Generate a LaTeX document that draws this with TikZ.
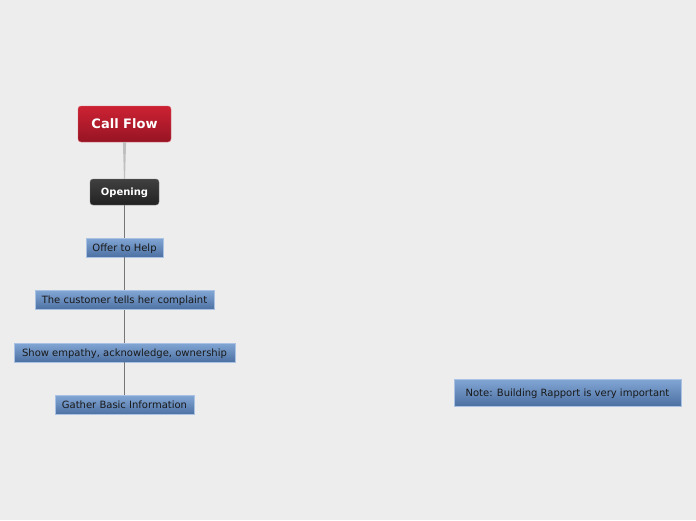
\documentclass[tikz,border=0pt]{standalone}
\usepackage{fontspec}
\setmainfont{DejaVu Sans}
\usepackage{tikz}
\usetikzlibrary{positioning}

\definecolor{bgback}{HTML}{EDEDED}
\definecolor{rootTop}{HTML}{CC2233}
\definecolor{rootBot}{HTML}{961424}
\definecolor{openTop}{HTML}{404040}
\definecolor{openBot}{HTML}{222222}
\definecolor{leafTop}{HTML}{82A6D4}
\definecolor{leafBot}{HTML}{4C70A2}
\definecolor{leafLine}{HTML}{A9C1E2}
\definecolor{linkGray}{HTML}{767676}

\tikzset{
  rootbox/.style={rounded corners=3pt, top color=rootTop, bottom color=rootBot,
    draw=rootTop!70!white, text=white, font=\fontsize{13}{15}\selectfont\bfseries,
    text height=9.5pt, text depth=0pt,
    minimum width=93pt, minimum height=36pt, inner sep=0pt},
  openbox/.style={rounded corners=3pt, top color=openTop, bottom color=openBot,
    draw=openTop!70!white, text=white, font=\fontsize{10}{12}\selectfont\bfseries,
    text height=7.3pt, text depth=0pt,
    minimum width=69pt, minimum height=26pt, inner sep=0pt},
  leafbox/.style={top color=leafTop, bottom color=leafBot, draw=leafLine,
    text=black!90, font=\fontsize{10}{12}\selectfont,
    text height=7.3pt, text depth=0pt,
    minimum height=19pt, inner sep=0pt},
  link/.style={draw=linkGray, line width=0.9pt}
}

\begin{document}
\begin{tikzpicture}[x=1pt,y=-1pt]

  \fill[bgback] (0,0) rectangle (696,520);
  \useasboundingbox (0,0) rectangle (696,520);

  % Nodes
  \node (root) at (124.5,124) [rootbox] {Call Flow};
  \node (open) at (124.5,192) [openbox] {Opening};
  \node (offer) at (124.5,247.5) [leafbox, minimum width=77pt] {Offer to Help};
  \node (tells) at (124.5,300) [leafbox, minimum width=179pt] {The customer tells her complaint};
  \node (empathy) at (124.5,352.5) [leafbox, minimum width=221pt] {Show empathy, acknowledge, ownership};
  \node (gather) at (124.5,405) [leafbox, minimum width=139pt] {Gather Basic Information};
  \node (note) at (567.5,392.5) [leafbox, minimum width=227pt, minimum height=27pt] {Note: Building Rapport is very important};

  % Links
  \fill[black!25] ([xshift=-1.6pt]root.south) -- ([xshift=1.6pt]root.south)
    -- ([xshift=0.5pt]open.north) -- ([xshift=-0.5pt]open.north) -- cycle;
  \draw[link] (open.south) -- (offer.north);
  \draw[link] (offer.south) -- (tells.north);
  \draw[link] (tells.south) -- (empathy.north);
  \draw[link] (empathy.south) -- (gather.north);
\end{tikzpicture}
\end{document}
